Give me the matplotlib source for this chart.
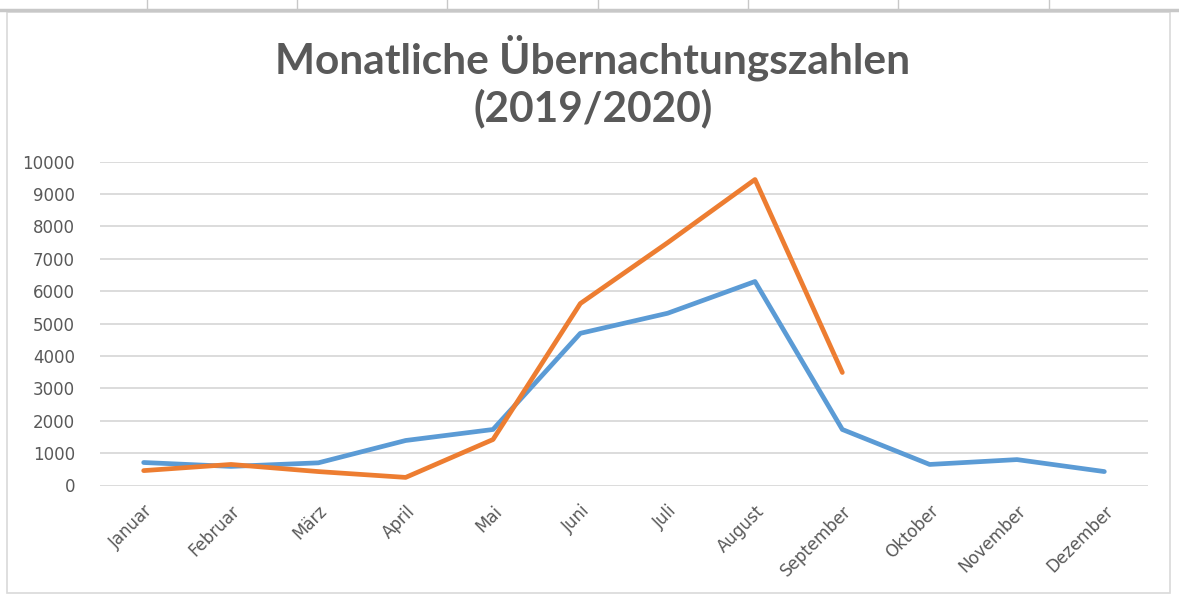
import matplotlib
matplotlib.use("Agg")
import matplotlib.pyplot as plt
from matplotlib.patches import Rectangle
from matplotlib.lines import Line2D

# data (Excel screenshot)
months = ["Januar", "Februar", "März", "April", "Mai", "Juni", "Juli",
          "August", "September", "Oktober", "November", "Dezember"]
vals_2019 = [710, 590, 700, 1390, 1730, 4700, 5320, 6300, 1730, 650, 800, 430]
vals_2020 = [460, 650, 430, 250, 1420, 5620, 7500, 9450, 3490]
yticks = list(range(0, 10001, 1000))

W, H = 1179, 597
plt.rcParams["font.family"] = ["Lato", "DejaVu Sans"]
plt.rcParams["xtick.labelsize"] = 12
plt.rcParams["ytick.labelsize"] = 12
plt.rcParams["xtick.labelcolor"] = "#595959"
plt.rcParams["ytick.labelcolor"] = "#595959"
fig = plt.figure(figsize=(W / 100, H / 100), dpi=100)
fig.patch.set_facecolor("white")

# spreadsheet strip + chart frame (pixel coords)
def px(x, y): return x / W, 1 - y / H
fig.add_artist(Line2D([0, 1], [1 - 10 / H] * 2, color="#C8C8C8", lw=2.5, transform=fig.transFigure))
for cx in [147, 297, 447, 598, 748, 898, 1049]:
    fig.add_artist(Line2D([cx / W] * 2, [1, 1 - 10 / H], color="#C8C8C8", lw=1, transform=fig.transFigure))
fig.add_artist(Rectangle(px(7, 593), (1170 - 7) / W, (593 - 12) / H, transform=fig.transFigure,
                         fill=False, ec="#D9D9D9", lw=1.2))

fig.text(593 / W, 1 - 58 / H, "Monatliche Übernachtungszahlen", ha="center", va="center",
         fontsize=30.5, fontweight="bold", color="#595959")
fig.text(593 / W, 1 - 108 / H, "(2019/2020)", ha="center", va="center",
         fontsize=30.5, fontweight="bold", color="#595959")

l, r, t, b = 100, 1148, 161.7, 485.5
ax = fig.add_axes([l / W, 1 - b / H, (r - l) / W, (b - t) / H])
x = list(range(len(months)))
ax.plot(x, vals_2019, color="#5B9BD5", lw=3.4, solid_capstyle="round", solid_joinstyle="round", zorder=3)
ax.plot(x[:len(vals_2020)], vals_2020, color="#ED7D31", lw=3.4, solid_capstyle="round",
        solid_joinstyle="round", zorder=4)

ax.set_xlim(-0.5, len(months) - 0.5)
ax.set_ylim(0, 10000)
ax.set_yticks(yticks)
ax.set_yticklabels([str(v) for v in yticks])
ax.yaxis.grid(True, color="#D9D9D9", lw=1.3)
ax.set_axisbelow(True)
for s in ax.spines.values():
    s.set_visible(False)
ax.tick_params(axis="y", length=0, pad=18)
ax.set_xticks(x)
ax.set_xticklabels(months, rotation=45, ha="right", rotation_mode="anchor")
ax.tick_params(axis="x", length=0, pad=12)
# tick labels: wider sans, closer to the Excel axis font
for lab in ax.get_xticklabels() + ax.get_yticklabels():
    lab.set_fontfamily(["DejaVu Sans"])

fig.savefig("out.png", dpi=100)
